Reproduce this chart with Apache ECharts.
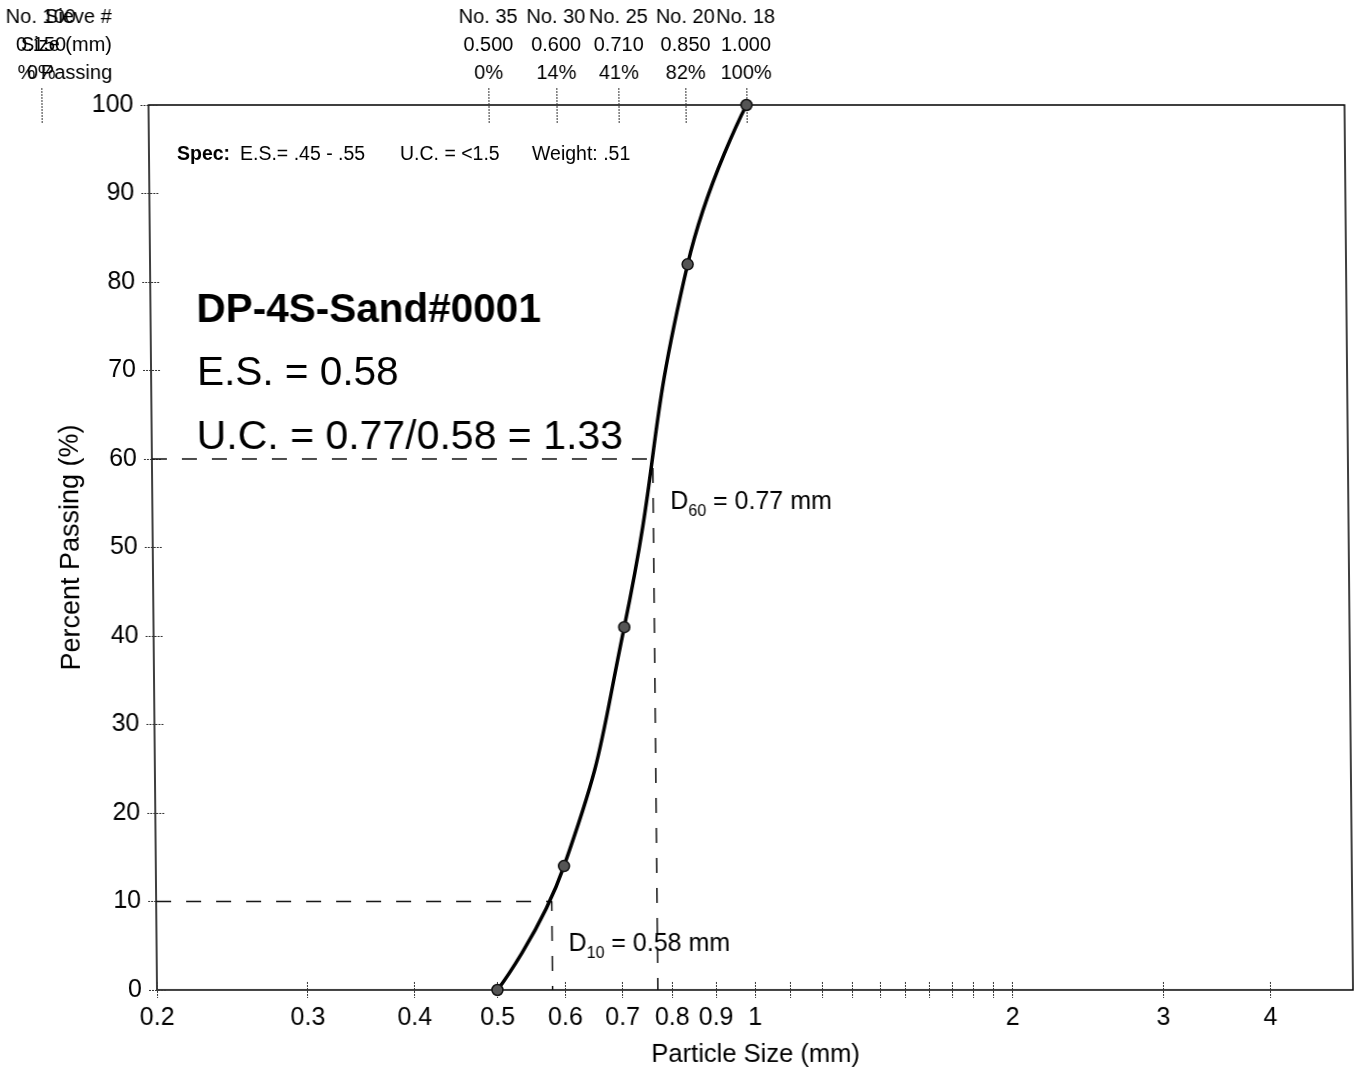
<!DOCTYPE html>
<html>
<head>
<meta charset="utf-8">
<script src="https://cdn.jsdelivr.net/npm/echarts@6/dist/echarts.min.js"></script>
<style>
html, body { margin: 0; padding: 0; background: #fff; }
/* the scanned original leans a little to the left at the top */
#chart { width: 1356px; height: 1076px; transform: skewX(0.55deg); transform-origin: 0 990px; }
</style>
</head>
<body>
<div id="chart"></div>
<script>
// sieve table (top axis)
var sieveNos = ["No. 100", "No. 35", "No. 30", "No. 25", "No. 20", "No. 18"];
var sieveSizes = [0.15, 0.5, 0.6, 0.71, 0.85, 1.0];
var sizeLabels = ["0.150", "0.500", "0.600", "0.710", "0.850", "1.000"];
var percentPassing = [0, 0, 14, 41, 82, 100];

// bottom axis ticks / labels (mm)
var xTickValues = [0.2, 0.3, 0.4, 0.5, 0.6, 0.7, 0.8, 0.9, 1, 1.1, 1.2, 1.3, 1.4, 1.5, 1.6, 1.7, 1.8, 1.9, 2, 3, 4];
var xLabelValues = [0.2, 0.3, 0.4, 0.5, 0.6, 0.7, 0.8, 0.9, 1, 2, 3, 4];
var xMin = 0.2, xMax = 5, topMin = 0.15;

var d10 = 0.58, d60 = 0.77;

var FONT = "Liberation Sans, Arial, sans-serif";
var lg = function (v) { return Math.log10(v); };

// plot area
var gLeft = 157, gRight = 3, gTop = 105, gBottom = 86;
var pxPerDecade = (1356 - gLeft - gRight) / (lg(xMax) - lg(xMin));
var topLeft = gLeft - pxPerDecade * (lg(xMin) - lg(topMin));

var curve = [];
sieveSizes.forEach(function (s, i) {
  if (s >= xMin) curve.push([lg(s), percentPassing[i]]);
});

var tickStyle = { color: "#333", width: 1, type: [2, 1] };
var noLine = { show: false, onZero: false };

function bottomLabel(v) {
  return String(parseFloat(Math.pow(10, v).toFixed(2)));
}
function topLabel(v) {
  for (var i = 0; i < sieveSizes.length; i++) {
    if (Math.abs(lg(sieveSizes[i]) - v) < 1e-6) {
      return sieveNos[i] + "\n" + sizeLabels[i] + "\n" + percentPassing[i] + "%";
    }
  }
  return "";
}

// ticks cross the frame: the axis is pulled inward by half the tick length
var chart = echarts.init(document.getElementById("chart"));
var option = {
  backgroundColor: "#fff",
  animation: false,
  textStyle: { fontFamily: FONT },
  grid: [
    { left: gLeft, right: gRight, top: gTop, bottom: gBottom, show: true, borderColor: "#000", borderWidth: 1.5 },
    { left: topLeft, right: gRight, top: gTop, bottom: gBottom, show: false }
  ],
  xAxis: [
    {
      gridIndex: 0, type: "value", position: "bottom", offset: -8, min: lg(xMin), max: lg(xMax),
      name: "Particle Size (mm)", nameLocation: "middle", nameGap: 60,
      nameTextStyle: { fontSize: 25.5, color: "#000", fontFamily: FONT },
      axisLine: noLine, splitLine: { show: false },
      axisTick: { show: true, length: 16, lineStyle: tickStyle, customValues: xTickValues.map(lg) },
      axisLabel: { fontSize: 25, color: "#000", margin: 24, formatter: bottomLabel, customValues: xLabelValues.map(lg) }
    },
    {
      gridIndex: 1, type: "value", position: "top", offset: -18, min: lg(topMin), max: lg(xMax),
      axisLine: noLine, splitLine: { show: false },
      axisTick: { show: true, length: 36, lineStyle: tickStyle, customValues: sieveSizes.map(lg) },
      axisLabel: { fontSize: 20, color: "#000", margin: 36, lineHeight: 28, formatter: topLabel, customValues: sieveSizes.map(lg) }
    }
  ],
  yAxis: [
    {
      gridIndex: 0, type: "value", position: "left", offset: -9, min: 0, max: 100, interval: 10,
      name: "Percent Passing (%)", nameLocation: "middle", nameGap: 76,
      nameTextStyle: { fontSize: 27, color: "#000", fontFamily: FONT },
      axisLine: noLine, splitLine: { show: false },
      axisTick: { show: true, length: 18, lineStyle: tickStyle },
      axisLabel: { fontSize: 25, color: "#000", margin: 24 }
    },
    { gridIndex: 1, type: "value", min: 0, max: 100, show: false, axisLine: noLine }
  ],
  series: [
    {
      type: "line", xAxisIndex: 0, yAxisIndex: 0, symbol: "none", silent: true,
      lineStyle: { color: "#111", width: 1.5, type: [15, 15] },
      data: [[lg(xMin), 60], [lg(d60), 60], [lg(d60), 0]]
    },
    {
      type: "line", xAxisIndex: 0, yAxisIndex: 0, symbol: "none", silent: true,
      lineStyle: { color: "#111", width: 1.5, type: [15, 15] },
      data: [[lg(xMin), 10], [lg(d10), 10], [lg(d10), 0]]
    },
    {
      type: "line", xAxisIndex: 0, yAxisIndex: 0, smooth: 0.5, z: 5,
      symbol: "circle", symbolSize: 11,
      itemStyle: { color: "#555", borderColor: "#111", borderWidth: 1.5 },
      lineStyle: { color: "#000", width: 3.5 },
      data: curve
    }
  ],
  graphic: [
    { type: "text", x: 121, y: 3, style: { text: "Sieve #\nSize (mm)\n% Passing", align: "right", verticalAlign: "top", fontSize: 20, lineHeight: 28, fontFamily: FONT, fill: "#000" } },
    { type: "text", x: 185, y: 155, style: { text: "Spec:", verticalAlign: "middle", fontSize: 19.5, fontWeight: "bold", fontFamily: FONT, fill: "#000" } },
    { type: "text", x: 248, y: 155, style: { text: "E.S.= .45 - .55", verticalAlign: "middle", fontSize: 19.5, fontFamily: FONT, fill: "#000" } },
    { type: "text", x: 408, y: 155, style: { text: "U.C. = <1.5", verticalAlign: "middle", fontSize: 19.5, fontFamily: FONT, fill: "#000" } },
    { type: "text", x: 540, y: 155, style: { text: "Weight: .51", verticalAlign: "middle", fontSize: 19.5, fontFamily: FONT, fill: "#000" } },
    { type: "text", x: 203, y: 311, style: { text: "DP-4S-Sand#0001", verticalAlign: "middle", fontSize: 40.5, fontWeight: "bold", fontFamily: FONT, fill: "#000" } },
    { type: "text", x: 203, y: 374, style: { text: "E.S. = 0.58", verticalAlign: "middle", fontSize: 40.5, fontFamily: FONT, fill: "#000" } },
    { type: "text", x: 202, y: 438, style: { text: "U.C. = 0.77/0.58 = 1.33", verticalAlign: "middle", fontSize: 41, fontFamily: FONT, fill: "#000" } },
    {
      type: "text", x: 675, y: 502,
      style: {
        text: "{m|D}{s|60}{m| = 0.77 mm}", verticalAlign: "middle", fill: "#000",
        rich: {
          m: { fontSize: 25, fontFamily: FONT, lineHeight: 36, verticalAlign: "middle" },
          s: { fontSize: 16, fontFamily: FONT, lineHeight: 16, verticalAlign: "bottom" }
        }
      }
    },
    {
      type: "text", x: 569, y: 944,
      style: {
        text: "{m|D}{s|10}{m| = 0.58 mm}", verticalAlign: "middle", fill: "#000",
        rich: {
          m: { fontSize: 25, fontFamily: FONT, lineHeight: 36, verticalAlign: "middle" },
          s: { fontSize: 16, fontFamily: FONT, lineHeight: 16, verticalAlign: "bottom" }
        }
      }
    }
  ]
};
chart.setOption(option);
</script>
</body>
</html>
